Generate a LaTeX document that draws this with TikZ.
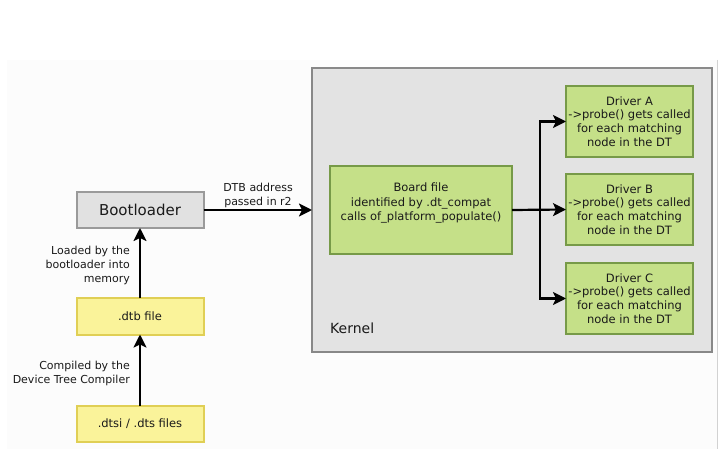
\documentclass[tikz,border=0pt]{standalone}
\usepackage{fontspec}
\setmainfont{DejaVu Sans}
\usetikzlibrary{arrows.meta,positioning}
\definecolor{grfill}{HTML}{C5E088}
\definecolor{grdraw}{HTML}{779A48}
\definecolor{yefill}{HTML}{FAF39A}
\definecolor{yedraw}{HTML}{E0CF55}
\definecolor{kefill}{HTML}{E3E3E3}
\definecolor{kedraw}{HTML}{888888}
\definecolor{bofill}{HTML}{E1E1E1}
\definecolor{bodraw}{HTML}{9A9A9A}
\definecolor{txt}{HTML}{1A1A1A}
\definecolor{bgfaint}{HTML}{FCFCFC}
\tikzset{
  box/.style={draw, line width=2bp, inner sep=0pt, outer sep=0pt, align=center, text=txt},
  greenbox/.style={box, fill=grfill, draw=grdraw, minimum width=127bp, minimum height=71bp,
    font=\fontsize{11.5bp}{13.8bp}\selectfont},
  yellowbox/.style={box, fill=yefill, draw=yedraw, minimum width=127bp, minimum height=36bp,
    font=\fontsize{11.5bp}{13.8bp}\selectfont},
  lbl/.style={inner sep=0pt, text=txt, font=\fontsize{11bp}{14bp}\selectfont},
  conn/.style={line width=2.2bp, -{Stealth[length=13bp,width=13bp,inset=3bp]}},
}
\begin{document}
\begin{tikzpicture}[x=1bp,y=-1bp]
\useasboundingbox (0,0) rectangle (724,449);
% faint scan background
\fill[bgfaint] (7,60) rectangle (717,449);
\draw[gray!35, line width=1bp] (717,60) -- (717,449);

% kernel container
\node[box, fill=kefill, draw=kedraw, minimum width=400bp, minimum height=284bp] (kernel) at (512,210) {};
\node[lbl, anchor=west, font=\fontsize{14bp}{16bp}\selectfont] (kernellbl) at (330,328) {Kernel};

% board file
\node[greenbox, minimum width=182bp, minimum height=88bp] (board) at (421,210) {};
\node[lbl, align=center, font=\fontsize{11.5bp}{14.4bp}\selectfont] (boardtxt) at (421,203)
  {Board file\\identified by .dt\_compat\\calls of\_platform\_populate()};

% drivers
\node[greenbox] (drvA) at (629.5,121.5) {Driver A\\->probe() gets called\\for each matching\\node in the DT};
\node[greenbox] (drvB) at (629.5,209.5) {Driver B\\->probe() gets called\\for each matching\\node in the DT};
\node[greenbox] (drvC) at (629.5,298.5) {Driver C\\->probe() gets called\\for each matching\\node in the DT};

% left column
\node[box, fill=bofill, draw=bodraw, minimum width=127bp, minimum height=36bp,
  font=\fontsize{15bp}{18bp}\selectfont] (boot) at (140,210) {Bootloader};
\node[yellowbox] (dtb) at (140,316.5) {.dtb file};
\node[yellowbox] (dts) at (140,424) {.dtsi / .dts files};

% connectors
\draw[conn] (boot.east) -- (kernel.west);
\node[lbl, align=center] (dtblbl) at (258,195) {DTB address\\passed in r2};
\draw[conn] (dtb.north) -- (boot.south);
\node[lbl, align=right, anchor=east] (loadlbl) at (130,265) {Loaded by the\\bootloader into\\memory};
\draw[conn] (dts.north) -- (dtb.south);
\node[lbl, align=right, anchor=east] (complbl) at (130,373) {Compiled by the\\Device Tree Compiler};

\coordinate (split) at (540,210);
\draw[conn] (board.east) -- (drvB.west);
\draw[conn] (split) |- (drvA.west);
\draw[conn] (split) |- (drvC.west);
\end{tikzpicture}
\end{document}
